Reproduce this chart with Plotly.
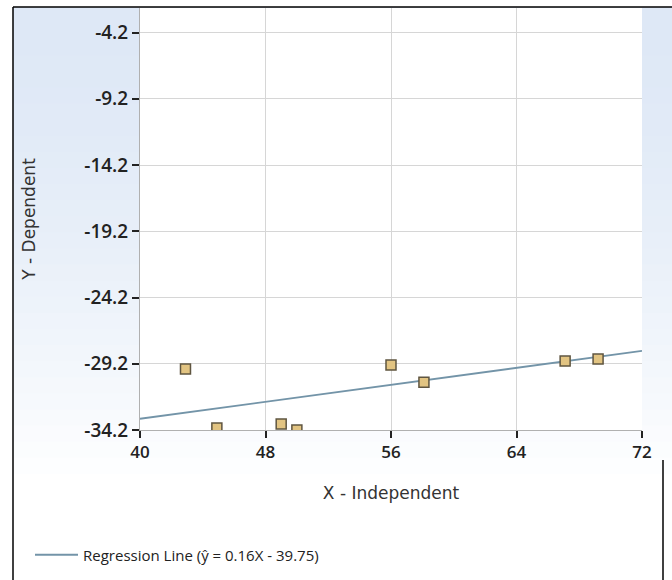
import plotly.graph_objects as go

# Data
x_values = [42.9, 44.9, 49.0, 50.0, 56.0, 58.1, 67.1, 69.2]
y_values = [-29.6, -34.05, -33.75, -34.2, -29.3, -30.6, -29.0, -28.85]
slope = 0.16
intercept = -39.75
x_ticks = [40, 48, 56, 64, 72]
y_ticks = [-4.2, -9.2, -14.2, -19.2, -24.2, -29.2, -34.2]
legend_label = "Regression Line (ŷ = 0.16X - 39.75)"

W, H = 672, 580
L, R, T, B = 140, 642, 8, 430  # plot area in pixels

def px(xp):
    return (xp - L) / (R - L)

def py(yp):
    return (B - yp) / (B - T)

line_x = [x_ticks[0], x_ticks[-1]]
line_y = [slope * v + intercept for v in line_x]

fig = go.Figure()
fig.add_trace(go.Scatter(
    x=line_x, y=line_y, mode="lines",
    line=dict(color="#7394a8", width=1.8),
    name=legend_label, showlegend=True, hoverinfo="skip"))
fig.add_trace(go.Scatter(
    x=x_values, y=y_values, mode="markers",
    marker=dict(symbol="square", size=10, color="#e2c482",
                line=dict(color="#5f5540", width=1.5)),
    showlegend=False))

shapes = []
# light blue gradient background
top_c = (222, 232, 246)
n = 30
y0p, y1p = 7, 490
for i in range(n):
    t = i / (n - 1)
    c = tuple(int(round(top_c[k] + (255 - top_c[k]) * t ** 1.6)) for k in range(3))
    ya = y0p + (y1p - y0p) * i / n
    yb = y0p + (y1p - y0p) * (i + 1) / n + 1
    shapes.append(dict(type="rect", xref="paper", yref="paper",
                       x0=px(13), x1=px(675), y0=py(yb), y1=py(ya),
                       fillcolor="rgb(%d,%d,%d)" % c, line=dict(width=0),
                       layer="below"))
# white plot area on top of the gradient
shapes.append(dict(type="rect", xref="paper", yref="paper",
                   x0=0, x1=1, y0=0, y1=1, fillcolor="white",
                   line=dict(width=0), layer="below"))
# frame lines
shapes.append(dict(type="line", xref="paper", yref="paper",
                   x0=px(13), x1=px(675), y0=py(7), y1=py(7),
                   line=dict(color="black", width=1.5)))
shapes.append(dict(type="line", xref="paper", yref="paper",
                   x0=px(13), x1=px(13), y0=py(7), y1=py(590),
                   line=dict(color="black", width=1.5)))
shapes.append(dict(type="line", xref="paper", yref="paper",
                   x0=px(663), x1=px(663), y0=py(460), y1=py(590),
                   line=dict(color="black", width=1.5)))

fig.update_layout(
    width=W, height=H,
    margin=dict(l=L, r=W - R, t=T, b=H - B, pad=0),
    paper_bgcolor="white", plot_bgcolor="white",
    shapes=shapes,
    showlegend=True,
    legend=dict(x=px(30), y=py(555), xanchor="left", yanchor="middle",
                bgcolor="rgba(0,0,0,0)", itemwidth=43,
                font=dict(family="Open Sans", size=15, color="#222222")),
    xaxis=dict(range=[x_ticks[0], x_ticks[-1]], tickvals=x_ticks,
               ticktext=[str(v) for v in x_ticks],
               showgrid=True, gridcolor="#d6d6d6", gridwidth=1,
               zeroline=False, showline=True, linecolor="#b0b0b0",
               ticks="outside", ticklen=7, tickcolor="#222222", tickwidth=1.5,
               tickfont=dict(family="Open Sans", size=17, color="#222222", weight=600),
               title=dict(text="X - Independent", standoff=24,
                          font=dict(family="DejaVu Sans", size=17, color="#333333"))),
    yaxis=dict(range=[y_ticks[-1], y_ticks[0] + (y_ticks[0] - y_ticks[1]) * 0.37],
               tickvals=y_ticks, ticktext=[("%.1f" % v) for v in y_ticks],
               showgrid=True, gridcolor="#d6d6d6", gridwidth=1,
               zeroline=False, showline=True, linecolor="#b0b0b0",
               ticks="outside", ticklen=7, tickcolor="#222222", tickwidth=1.5,
               tickfont=dict(family="Open Sans", size=19, color="#222222", weight=600),
               title=dict(text="Y - Dependent", standoff=44,
                          font=dict(family="DejaVu Sans", size=17, color="#333333"))),
)

fig.write_html("out.html")
